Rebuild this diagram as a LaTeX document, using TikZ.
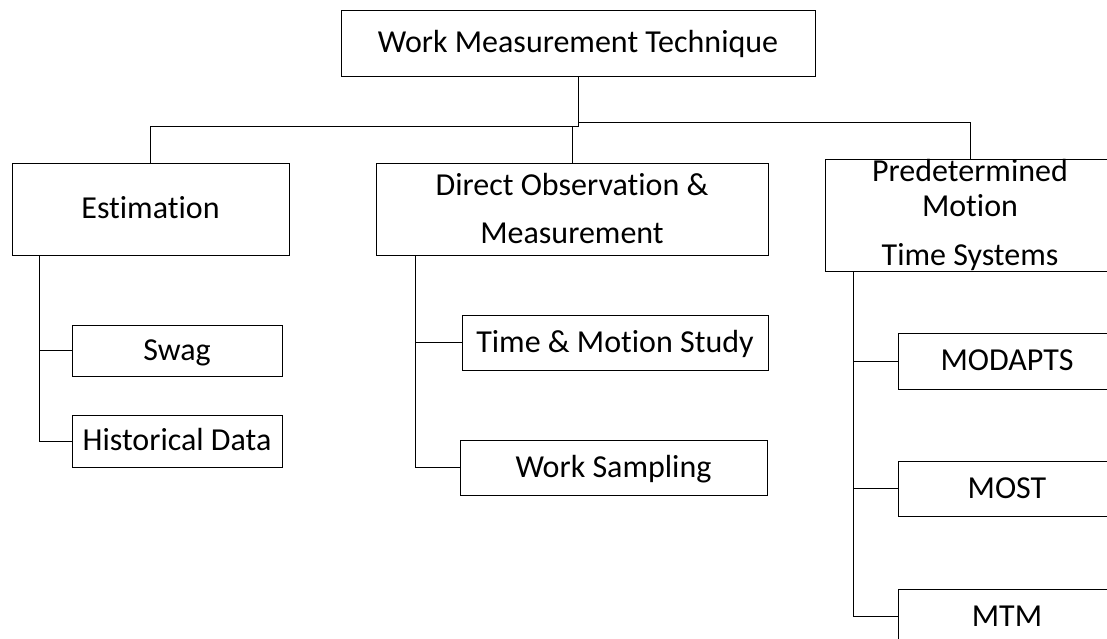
\documentclass[tikz,border=0pt]{standalone}
\usepackage{fontspec}
\setmainfont{Carlito}[Ligatures=NoCommon]

\begin{document}
\begin{tikzpicture}[x=1pt,y=-1pt,line width=0.9pt,
  box/.style={draw,inner sep=0pt,align=center,font=\fontsize{32}{35}\selectfont},
  single/.style={box,text height=24pt,text depth=5pt},
  leaf/.style={single,minimum width=#1,minimum height=55pt}]
\path[use as bounding box,clip] (0,0) rectangle (1107,639);

\node[single,minimum width=474pt,minimum height=66pt] (wmt) at (578,43) {Work Measurement Technique};

\node[single,minimum width=277pt,minimum height=92pt] (est) at (150.5,209) {Estimation};
\node[box,font=\fontsize{32}{48}\selectfont,minimum width=392pt,minimum height=92pt] (dom) at (572,209)
  {Direct Observation \&\\Measurement};
\node[box,minimum width=290pt,minimum height=112pt] (pmts) at (970,215)
  {Predetermined\\Motion\\[14pt]Time Systems};

\node[leaf=210pt,minimum height=51pt] (swag) at (177,350.5) {Swag};
\node[leaf=210pt,minimum height=52pt] (hist) at (177,441) {Historical Data};

\node[leaf=306pt] (tms) at (615,342.5) {Time \& Motion Study};
\node[leaf=307pt] (ws) at (613.5,467.5) {Work Sampling};

\node[leaf=218pt,minimum height=56pt] (modapts) at (1007,361) {MODAPTS};
\node[leaf=218pt] (most) at (1007,488.5) {MOST};
\node[leaf=218pt] (mtm) at (1007,616.5) {MTM};

\coordinate (jl) at (578,126);
\coordinate (jr) at (578,122);

\draw (wmt.south) -- (jl) -| (est.north);
\draw (jr) -| (pmts.north);
\draw (dom.north) -- (dom.north |- jl);

\draw ([xshift=28pt]est.south west) |- (swag.west);
\draw ([xshift=28pt]est.south west) |- (hist.west);
\draw ([xshift=40pt]dom.south west) |- (tms.west);
\draw ([xshift=40pt]dom.south west) |- (ws.west);
\draw ([xshift=29pt]pmts.south west) |- (modapts.west);
\draw ([xshift=29pt]pmts.south west) |- (most.west);
\draw ([xshift=29pt]pmts.south west) |- (mtm.west);
\end{tikzpicture}
\end{document}
